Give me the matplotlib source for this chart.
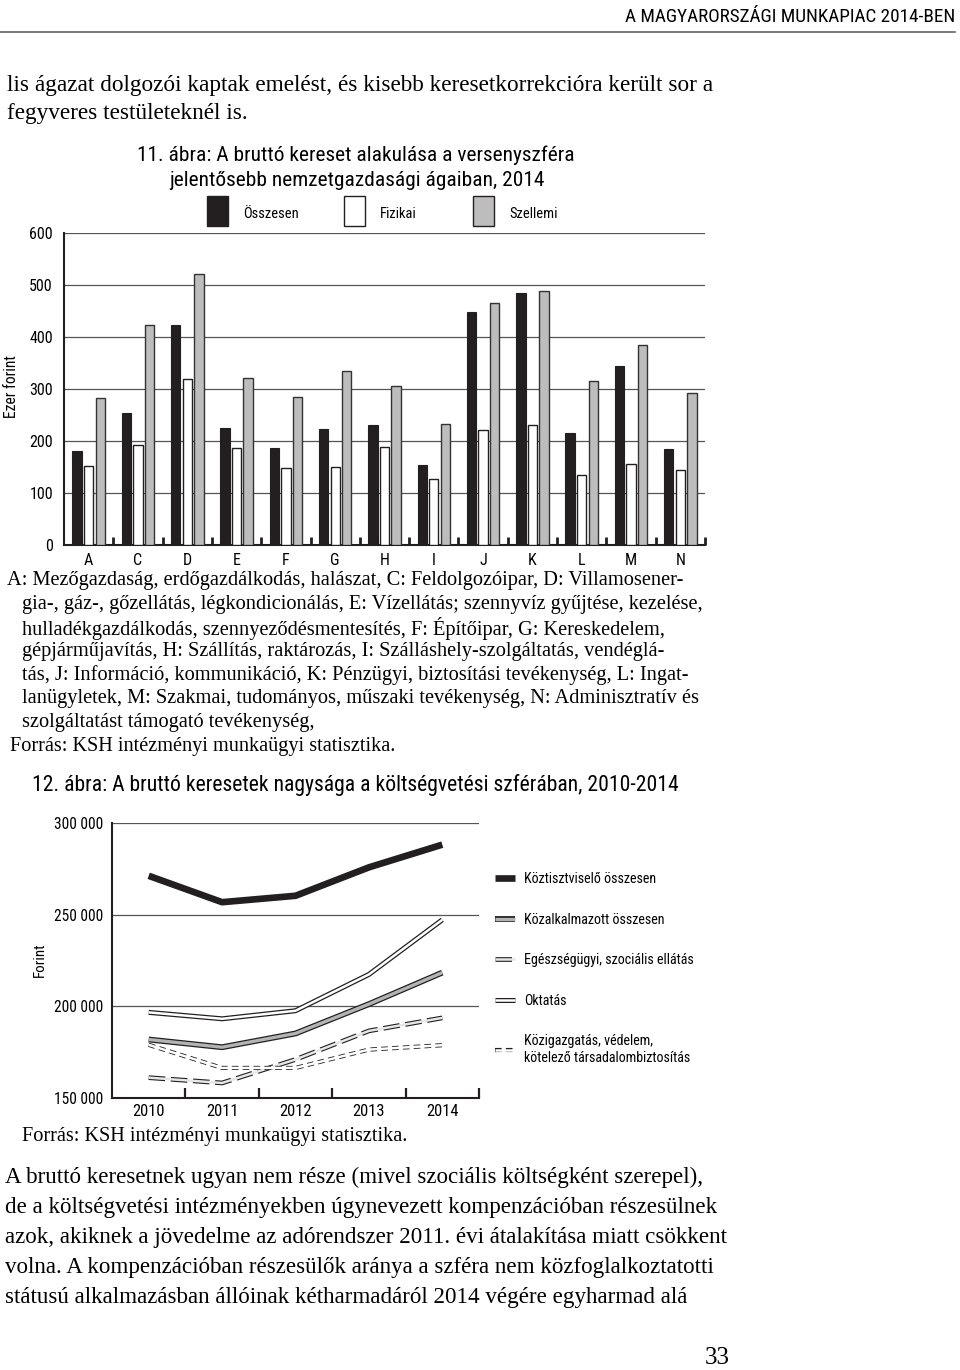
import numpy as np
import matplotlib
matplotlib.use('Agg')
import matplotlib.pyplot as plt
from matplotlib.patches import Rectangle
from matplotlib.lines import Line2D
from matplotlib.legend_handler import HandlerTuple

W, H = 960, 1370
COND = ['Roboto Condensed', 'Liberation Sans Narrow', 'Liberation Sans', 'DejaVu Sans']
SERIF = ['Liberation Serif', 'DejaVu Serif']

# 11. abra - ezer forint
agak = ['A', 'C', 'D', 'E', 'F', 'G', 'H', 'I', 'J', 'K', 'L', 'M', 'N']
osszesen = [180, 253, 423, 225, 186, 224, 230, 153, 449, 485, 215, 345, 184]
fizikai = [151, 192, 320, 186, 148, 150, 189, 126, 221, 230, 135, 156, 145]
szellemi = [282, 424, 521, 322, 285, 334, 305, 232, 466, 489, 316, 385, 293]

# 12. abra - forint
evek = ['2010', '2011', '2012', '2013', '2014']
koztisztviselo = [271200, 256800, 260300, 275800, 288200]
kozalkalmazott = [181900, 177700, 185200, 201200, 218400]
egeszsegugy = [161100, 158200, 171000, 186600, 193700]
oktatas = [196700, 193200, 197600, 217400, 247200]
kozigazgatas = [179000, 166400, 166400, 176400, 178800]


def fx(x):
    return x / W


def fy(y):
    return 1 - y / H


def pt(p):
    # pixel -> point at dpi 100
    return p * 0.72


fig = plt.figure(figsize=(9.6, 13.7), dpi=100)


def txt(x, y, s, size, fam=SERIF, **kw):
    fig.text(fx(x), fy(y), s, fontsize=pt(size), family=fam, va='center', **kw)


# fejlec
txt(955, 17, 'A MAGYARORSZÁGI MUNKAPIAC 2014-BEN', 19.2, COND, ha='right')
fig.add_artist(Line2D([0, fx(955)], [fy(32), fy(32)], color='#555555', lw=1.1))

txt(7, 85, 'lis ágazat dolgozói kaptak emelést, és kisebb keresetkorrekcióra került sor a', 23.2)
txt(7, 113, 'fegyveres testületeknél is.', 23.2)

# ---- 11. abra ----
txt(356, 155, '11. ábra: A bruttó kereset alakulása a versenyszféra', 21.4, COND, ha='center')
txt(357, 181, 'jelentősebb nemzetgazdasági ágaiban, 2014', 21.4, COND, ha='center')

leg1 = [(207, '#231f20', 'Összesen'), (344, 'white', 'Fizikai'), (473, '#bdbdbd', 'Szellemi')]
for lx, c, lab in leg1:
    fig.add_artist(Rectangle((fx(lx), fy(226)), 21 / W, 30 / H, facecolor=c,
                             edgecolor='#231f20', lw=1, transform=fig.transFigure))
    txt(lx + 36, 214, lab, 14.5, COND)

ax1 = fig.add_axes([fx(64), fy(545), (705 - 64) / W, (545 - 233) / H])
x = np.arange(len(agak))
bw = 0.19
ax1.bar(x - 0.235, osszesen, bw, color='#231f20', edgecolor='#231f20', lw=0.8, zorder=3)
ax1.bar(x, fizikai, bw, color='white', edgecolor='#231f20', lw=1, zorder=3)
ax1.bar(x + 0.235, szellemi, bw, color='#bdbdbd', edgecolor='#333333', lw=1, zorder=3)
ax1.set_xlim(-0.5, len(agak) - 0.5)
ax1.set_ylim(0, 600)
ax1.set_yticks(range(0, 601, 100))
ax1.grid(axis='y', color='#555555', lw=0.9)
ax1.set_axisbelow(True)
for s in ['top', 'right']:
    ax1.spines[s].set_visible(False)
for s in ['left', 'bottom']:
    ax1.spines[s].set_linewidth(1.5)
    ax1.spines[s].set_color('#231f20')
ax1.set_xticks(x, agak)
ax1.set_xticks(np.arange(0.5, len(agak), 1), minor=True)
ax1.tick_params(axis='x', which='major', length=0, pad=6)
ax1.tick_params(axis='x', which='minor', direction='in', length=6, width=2, color='#231f20')
ax1.tick_params(axis='y', length=0, pad=8)
for lab in ax1.get_xticklabels() + ax1.get_yticklabels():
    lab.set_family(COND)
    lab.set_fontsize(pt(16))
txt(12, 387, 'Ezer forint', 15.5, COND, ha='center', rotation=90)

# jelmagyarazat
megj = ['A: Mezőgazdaság, erdőgazdálkodás, halászat, C: Feldolgozóipar, D: Villamosener-',
        'gia-, gáz-, gőzellátás, légkondicionálás, E: Vízellátás; szennyvíz gyűjtése, kezelése,',
        'hulladékgazdálkodás, szennyeződésmentesítés, F: Építőipar, G: Kereskedelem,',
        'gépjárműjavítás, H: Szállítás, raktározás, I: Szálláshely-szolgáltatás, vendéglá-',
        'tás, J: Információ, kommunikáció, K: Pénzügyi, biztosítási tevékenység, L: Ingat-',
        'lanügyletek, M: Szakmai, tudományos, műszaki tevékenység, N: Adminisztratív és',
        'szolgáltatást támogató tevékenység,']
for i, sor in enumerate(megj):
    txt(7 if i == 0 else 22, 581 + i * 23.6, sor, 20.4)
txt(10, 746, 'Forrás: KSH intézményi munkaügyi statisztika.', 20.3)

# ---- 12. abra ----
txt(32, 785, '12. ábra: A bruttó keresetek nagysága a költségvetési szférában, 2010-2014', 21.6, COND)

ax2 = fig.add_axes([fx(112), fy(1098), (479 - 112) / W, (1098 - 823) / H])
xe = np.arange(len(evek))
kw = dict(solid_capstyle='butt', dash_capstyle='butt')
l1, = ax2.plot(xe, koztisztviselo, color='#231f20', lw=4.8, zorder=5, **kw)
l2a, = ax2.plot(xe, kozalkalmazott, color='#231f20', lw=4.2, zorder=4, **kw)
l2b, = ax2.plot(xe, kozalkalmazott, color='#b3b3b3', lw=2.4, zorder=4, **kw)
l4a, = ax2.plot(xe, oktatas, color='#231f20', lw=3.6, zorder=4, **kw)
l4b, = ax2.plot(xe, oktatas, color='white', lw=1.8, zorder=4, **kw)
l3a, = ax2.plot(xe, egeszsegugy, color='#231f20', lw=3.4, ls=(0, (3.5, 1.2)), zorder=3, **kw)
l3b, = ax2.plot(xe, egeszsegugy, color='#e6e6e6', lw=1.8, zorder=3, **kw)
l5a, = ax2.plot(xe, kozigazgatas, color='#231f20', lw=3.0, ls=(0, (1.6, 1.0)), zorder=3, **kw)
l5b, = ax2.plot(xe, kozigazgatas, color='white', lw=1.8, zorder=3, **kw)
ax2.set_xlim(-0.5, len(evek) - 0.5)
ax2.set_ylim(150000, 300000)
ax2.set_yticks([150000, 200000, 250000, 300000], ['150 000', '200 000', '250 000', '300 000'])
ax2.grid(axis='y', color='#555555', lw=0.9)
ax2.set_axisbelow(True)
for s in ['top', 'right']:
    ax2.spines[s].set_visible(False)
for s in ['left', 'bottom']:
    ax2.spines[s].set_linewidth(1.5)
    ax2.spines[s].set_color('#231f20')
ax2.set_xticks(xe, evek)
ax2.set_xticks(np.arange(0.5, len(evek), 1), minor=True)
ax2.tick_params(axis='x', which='major', length=0, pad=4)
ax2.tick_params(axis='x', which='minor', direction='in', length=7, width=1.6, color='#231f20')
ax2.tick_params(axis='y', length=0, pad=6)
for lab in ax2.get_yticklabels():
    lab.set_family(COND)
    lab.set_fontsize(pt(15.5))
for lab in ax2.get_xticklabels():
    lab.set_family(COND)
    lab.set_fontsize(pt(16.5))
txt(40, 960, 'Forint', 15, COND, ha='center', rotation=90)

ax2.legend([l1, (l2a, l2b), (l3a, l3b), (l4a, l4b), (l5a, l5b)],
           ['Köztisztviselő összesen', 'Közalkalmazott összesen',
            'Egészségügyi, szociális ellátás', 'Oktatás',
            'Közigazgatás, védelem,\nkötelező társadalombiztosítás'],
           handler_map={tuple: HandlerTuple(ndivide=1)},
           loc='upper left', bbox_to_anchor=(fx(495), fy(872)), bbox_transform=fig.transFigure,
           frameon=False, prop={'family': COND, 'size': pt(14)}, handlelength=1.45,
           handletextpad=0.6, labelspacing=1.9, borderpad=0, borderaxespad=0)

txt(22, 1137, 'Forrás: KSH intézményi munkaügyi statisztika.', 20.3)

bekezdes = ['A bruttó keresetnek ugyan nem része (mivel szociális költségként szerepel),',
            'de a költségvetési intézményekben úgynevezett kompenzációban részesülnek',
            'azok, akiknek a jövedelme az adórendszer 2011. évi átalakítása miatt csökkent',
            'volna. A kompenzációban részesülők aránya a szféra nem közfoglalkoztatotti',
            'státusú alkalmazásban állóinak kétharmadáról 2014 végére egyharmad alá']
for i, sor in enumerate(bekezdes):
    txt(5, 1177 + i * 30, sor, 23)
txt(730, 1358, '33', 25, ha='right')

fig.savefig('out.png', dpi=100)
